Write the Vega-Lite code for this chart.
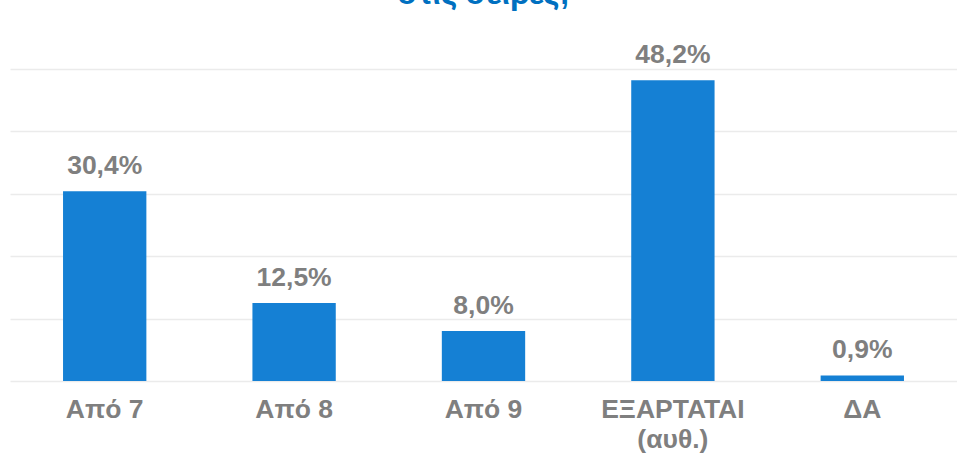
{
  "$schema": "https://vega.github.io/schema/vega-lite/v6.json",
  "autosize": {"type": "none"},
  "width": 947,
  "height": 312,
  "padding": {"left": 10, "top": 69, "right": 0, "bottom": 78},
  "background": "white",
  "title": {
    "text": "στις σειρές;",
    "font": "Liberation Sans",
    "fontSize": 31,
    "fontWeight": "bold",
    "color": "#0070C0",
    "anchor": "middle",
    "baseline": "bottom",
    "offset": 0
  },
  "data": {
    "values": [
      {"cat": "Από 7", "value": 30.4, "label": "30,4%"},
      {"cat": "Από 8", "value": 12.5, "label": "12,5%"},
      {"cat": "Από 9", "value": 8.0, "label": "8,0%"},
      {"cat": "ΕΞΑΡΤΑΤΑΙ|(αυθ.)", "value": 48.2, "label": "48,2%"},
      {"cat": "ΔΑ", "value": 0.9, "label": "0,9%"}
    ]
  },
  "encoding": {
    "x": {
      "field": "cat",
      "type": "nominal",
      "sort": null,
      "scale": {"paddingInner": 0.56, "paddingOuter": 0.28},
      "axis": {
        "title": null,
        "domain": false,
        "ticks": false,
        "labelAngle": 0,
        "labelFont": "Liberation Sans",
        "labelFontSize": 26.5,
        "labelFontWeight": "bold",
        "labelColor": "#7f7f7f",
        "labelPadding": 15,
        "labelLineHeight": 30,
        "labelExpr": "split(datum.label, '|')"
      }
    },
    "y": {
      "field": "value",
      "type": "quantitative",
      "scale": {"domain": [0, 50], "nice": false},
      "axis": {
        "title": null,
        "domain": false,
        "ticks": false,
        "labels": false,
        "values": [0, 10, 20, 30, 40, 50],
        "grid": true,
        "gridColor": "#ebebeb",
        "gridWidth": 1.5
      }
    }
  },
  "layer": [
    {"mark": {"type": "bar", "color": "#1580D4"}},
    {
      "mark": {
        "type": "text",
        "baseline": "alphabetic",
        "dy": -17,
        "font": "Liberation Sans",
        "fontSize": 26.5,
        "fontWeight": "bold",
        "color": "#7f7f7f"
      },
      "encoding": {"text": {"field": "label"}}
    }
  ],
  "config": {"view": {"stroke": null}}
}
